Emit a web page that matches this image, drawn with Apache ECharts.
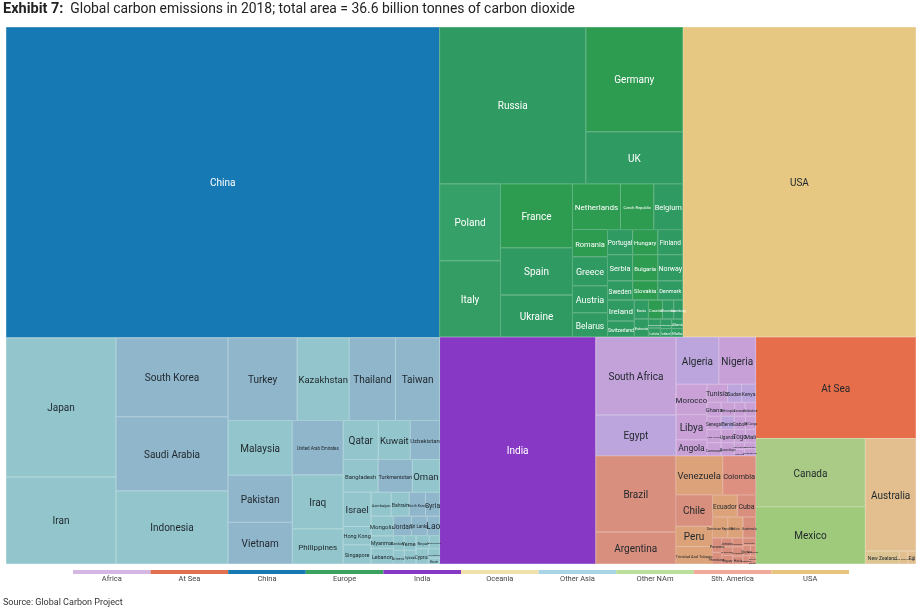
<!DOCTYPE html>
<html><head><meta charset="utf-8">
<script src="https://cdn.jsdelivr.net/npm/echarts@6/dist/echarts.min.js"></script>
<style>html,body{margin:0;background:#fff}#c{width:920px;height:610px}</style>
</head><body><div id="c"></div>
<script>
// Values are million tonnes of CO2. A pair is a country; a longer list is a nesting group.
const legendNames = ['Africa','At Sea','China','Europe','India','Oceania','Other Asia','Other NAm','Sth. America','USA'];
const china = ['China',10065];
const usa = ['USA',5400];
const india = ['India',2650];
const atSea = ['At Sea',1216];
const otherNAm = [['Canada',560],['Mexico',469]];
const oceania = [['Australia',427],[['New Zealand',33],[['Papua New Guinea',8],['Fiji',8]]]];
const europe = [
  [['Russia',1711],[['Germany',759],['UK',377]]],
  [[['Poland',351],['Italy',347]],
   [[['France',345],['Spain',253],['Ukraine',226]],
    [[['Netherlands',165],['Czech Republic',114],['Belgium',100]],
     [[['Romania',71],['Greece',76],['Austria',71],['Belarus',63]],
      [[[[['Portugal',47],['Hungary',47]],[[['Serbia',49],['Sweden',36]],[['Bulgaria',49],['Slovakia',36]]]],
        [['Finland',47],['Norway',49],['Denmark',36]]],
       [[['Ireland',42],['Switzerland',32]],
        [[['Bosnia',20],['Estonia',19]],
         [[['Croatia',20],['Slovenia',16],['Luxembourg',13]],
          [[['Macedonia',8],['Latvia',8]],[[['Lithuania',8],['Iceland',7]],[['Albania',8],['Malta',7]]]]]]]]]]]]
];
const otherAsia = [
  [['Japan',1144],['Iran',716]],
  [[['South Korea',662],['Saudi Arabia',620],['Indonesia',612]],
   [[['Turkey',428],['Kazakhstan',323],['Thailand',286],['Taiwan',273]],
    [[['Malaysia',263],['Pakistan',225],['Vietnam',201]],
     [[['United Arab Emirates',206],['Iraq',206],['Philippines',134]],
      [[['Qatar',102],['Kuwait',93],['Uzbekistan',85]],
       [[['Bangladesh',86],['Turkmenistan',84],['Oman',67]],
        [[['Israel',71],['Hong Kong',38],['Singapore',40]],
         [[['Azerbaijan',36],['Bahrain',32],['North Korea',29],['Syria',25]],
          [[['Mongolia',33],['Myanmar',21],['Lebanon',26]],
           [[['Jordan',26],['Sri Lanka',23],['Lao',18]],
            [[['Cambodia',12],['Armenia',11]],
             [[['Yemen',13],['Tajikistan',12]],
              [[['Nepal',13],['Afghanistan',10]],
               [['Cyprus',14],[['Kyrgyzstan',8],['Brunei',5]]]]]]]]]]]]]]]]
];
const africa = [
  [['South Africa',468],['Egypt',245]],
  [[['Algeria',151],['Nigeria',130]],
   [[['Morocco',70],['Libya',58],['Angola',37]],
    [[['Tunisia',28],['Sudan',19],['Kenya',19]],
     [[['Ghana',15],['Ethiopia',14],['Tanzania',11],['Zimbabwe',11]],
      [[[['Senegal',14],['Benin',13]],[[["Cote d'Ivoire",14],['Cameroon',14]],[['Uganda',13],['Mozambique',13]]]],
       [[['Gabon',11],['DR Congo',10]],
        [[['Togo',11],['Mali',10]],
         [[['Mauritania',5],['Namibia',5]],[['Botswana',5],['Madagascar',6]]]]]]]]]]
];
const sthAmerica = [
  [['Brazil',455],['Argentina',191]],
  [[['Venezuela',137],['Colombia',96]],
   [[['Chile',86],['Peru',56],['Trinidad And Tobago',48]],
    [[['Ecuador',41],['Cuba',30]],
     [[['Dominican Republic',24],['Bolivia',24],['Guatemala',20]],
      [[['Panama',10],['Honduras',8]],
       [[[['Jamaica',7],['Paraguay',7]],[[['El Salvador',7],['Uruguay',7]],[['Nicaragua',7],['Haiti',6]]]],
        [['Suriname',7],['Guyana',6],['Barbados',4],['Bahamas',4],['Belize',2],['Aruba',2]]]]]]]]
];

// Styling tables
const legendColors = ['#d5b7e4','#e0704f','#1779b3','#3ba25f','#8738c4','#f0e0ab','#a8d5e3','#b9df9a','#f0a99a','#e8c57e'];
const toneA = {China:'#1779b3',USA:'#e6c883',India:'#8738c4',AtSea:'#e76e4b',NAm:'#a9ca85',Oceania:'#e3bf90',Europe:'#2f9a61',Asia:'#92c6cc',Africa:'#c9a1d7',SAm:'#d98f7e'};
const toneB = {Europe:'#2d9b50',Asia:'#90b6cc',Africa:'#bba5dc',SAm:'#dca27a'};
const altNames = new Set(['Germany','France','Czech Republic','Hungary','Bulgaria','Netherlands','Romania','Slovakia','Croatia',
  'Turkey','South Korea','Saudi Arabia','Thailand','Taiwan','Vietnam','United Arab Emirates','Uzbekistan','Turkmenistan','Pakistan','North Korea','Sri Lanka','Syria','Lao','Jordan',
  'Algeria','Egypt','Kenya','Benin','Sudan',
  'Venezuela','Peru','Ecuador','Bolivia','Trinidad And Tobago','Dominican Republic']);
const nameColor = {Canada:'#aacb85',Mexico:'#9fca7b','New Zealand':'#dcc592',Nigeria:'#c7a0d8',Colombia:'#dd9080','South Africa':'#c3a2da',Poland:'#35a068',Italy:'#339d63'};
const lightText = new Set(['China','Europe','India']);
const labelSizes = {Belgium:7.5,Netherlands:8,'Czech Republic':4,Romania:7.5,Greece:9,Austria:9,Belarus:8.5,Portugal:6.5,Hungary:6,Finland:6.5,Serbia:7.5,Bulgaria:6,Norway:7,Sweden:6.5,Slovakia:6,Denmark:5.5,Ireland:8,Switzerland:5,Estonia:4,Croatia:4,Bosnia:3,
  Qatar:10,Kuwait:9.5,Uzbekistan:6,Bangladesh:6,Turkmenistan:5.5,Oman:9.5,Israel:9.5,Azerbaijan:4,Bahrain:5,'North Korea':3.5,Syria:7,Mongolia:6,Jordan:6.5,'Sri Lanka':4.5,Lao:8.5,'Hong Kong':5.5,Singapore:5.5,Myanmar:5.5,Lebanon:5.5,'United Arab Emirates':4.5,Kazakhstan:9.5,Cyprus:5,Nepal:4,
  Algeria:10,Nigeria:10,Morocco:8,Libya:10,Angola:8.5,Tunisia:7,Sudan:5,Kenya:5,Ghana:6,Ethiopia:4,Tanzania:3,Zimbabwe:3,Senegal:4.5,Benin:4.5,
  Venezuela:9.5,Colombia:7.5,Chile:10,Peru:10,Ecuador:6.5,Cuba:7,'Trinidad And Tobago':4,'Dominican Republic':3,Bolivia:3,Guatemala:3,Panama:4,Honduras:3.5,'New Zealand':5};

function mixWhite(hex,t){
  const n=parseInt(hex.slice(1),16);
  const c=[n>>16,(n>>8)&255,n&255].map(v=>Math.round(v+(255-v)*t));
  return 'rgb('+c.join(',')+')';
}
function isLeaf(n){return typeof n[0]==='string';}
function node(n,region){
  if(isLeaf(n)){
    const color=nameColor[n[0]]||((altNames.has(n[0])&&toneB[region])||toneA[region]);
    const fit=Math.sqrt(n[1]/0.0748)/(n[0].length*0.48);
    return {name:n[0],value:n[1],
      itemStyle:{color:color,borderColor:mixWhite(color,0.38),borderWidth:0.5},
      label:{show:true,position:'inside',padding:0,overflow:'none',fontFamily:'Roboto',offset:[0,1.5],
        fontSize:labelSizes[n[0]]||Math.max(2.5,Math.min(10,fit)),
        color:lightText.has(region)?'#ffffff':'#1f262b'}};
  }
  return {name:'',itemStyle:{borderWidth:0,gapWidth:0,borderColor:toneA[region]},label:{show:false},
    children:n.map(c=>node(c,region))};
}
const treeData=[
  node(china,'China'),
  node(otherAsia,'Asia'),
  node(europe,'Europe'),
  node(usa,'USA'),
  node(india,'India'),
  node(africa,'Africa'),
  node(sthAmerica,'SAm'),
  node(atSea,'AtSea'),
  node(otherNAm,'NAm'),
  node(oceania,'Oceania')
];
const chart=echarts.init(document.getElementById('c'));
chart.setOption({
  animation:false,
  backgroundColor:'#fff',
  title:[
    {left:3,top:2,padding:0,text:'{b|Exhibit 7:}{n|  Global carbon emissions in 2018; total area = 36.6 billion tonnes of carbon dioxide}',
     textStyle:{rich:{b:{fontFamily:'Roboto',fontSize:14.5,fontWeight:'bold',color:'#222'},n:{fontFamily:'Roboto',fontSize:13.9,fontWeight:'normal',color:'#222'}}}},
    {left:3,top:598,padding:0,text:'Source: Global Carbon Project',textStyle:{fontFamily:'Roboto',fontSize:9,fontWeight:'normal',color:'#333'}}
  ],
  grid:{left:73,width:776,top:570,height:4,containLabel:false},
  xAxis:{type:'category',data:legendNames,axisLine:{show:false},axisTick:{show:false},
    axisLabel:{fontFamily:'Roboto',fontSize:7.5,color:'#444',margin:1,interval:0}},
  yAxis:{type:'value',min:0,max:1,show:false},
  series:[
    {type:'bar',barWidth:'100%',silent:true,data:legendNames.map((_,i)=>({value:1,itemStyle:{color:legendColors[i]}}))},
    {type:'treemap',left:6,top:27,width:910,height:537,squareRatio:1,sort:false,roam:false,nodeClick:false,silent:true,
     visibleMin:0,breadcrumb:{show:false},itemStyle:{borderWidth:0,gapWidth:0},data:treeData}
  ]
});
</script></body></html>
